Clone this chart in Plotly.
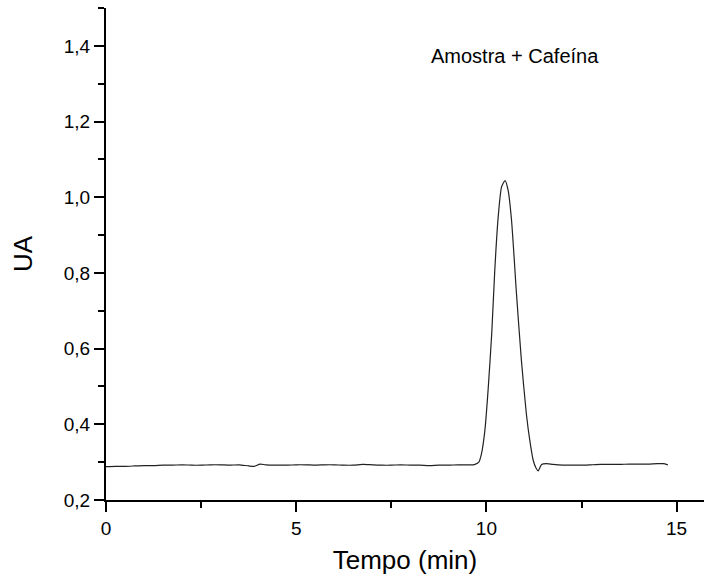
import plotly.graph_objects as go

# Time (min) and absorbance (UA)
tempo = [0.0, 0.25, 0.5, 0.75, 1.0, 1.25, 1.5, 1.75, 2.0, 2.25, 2.5, 2.75, 3.0, 3.25, 3.5,
         3.75, 3.9, 4.05, 4.2, 4.5, 4.75, 5.0, 5.25, 5.5, 5.75, 6.0, 6.25, 6.5, 6.75, 7.0,
         7.25, 7.5, 7.75, 8.0, 8.25, 8.5, 8.75, 9.0, 9.25, 9.5, 9.65, 9.70, 9.80, 9.87, 9.96,
         10.05, 10.14, 10.22, 10.31, 10.40, 10.49, 10.57, 10.66, 10.79, 10.92, 11.05, 11.14,
         11.23, 11.30, 11.36, 11.45, 11.58, 11.75, 12.0, 12.25, 12.5, 12.75, 13.0, 13.25,
         13.5, 13.75, 14.0, 14.25, 14.5, 14.65, 14.77]
ua = [0.288, 0.289, 0.289, 0.290, 0.291, 0.291, 0.292, 0.292, 0.293, 0.292, 0.292, 0.293, 0.293,
      0.292, 0.293, 0.290, 0.289, 0.295, 0.293, 0.292, 0.292, 0.293, 0.293, 0.292, 0.293, 0.293,
      0.292, 0.292, 0.294, 0.293, 0.292, 0.292, 0.293, 0.292, 0.292, 0.291, 0.292, 0.292, 0.293,
      0.293, 0.293, 0.294, 0.300, 0.322, 0.384, 0.499, 0.640, 0.807, 0.948, 1.028, 1.044, 1.019,
      0.940, 0.746, 0.569, 0.428, 0.358, 0.305, 0.285, 0.277, 0.294, 0.296, 0.294, 0.292, 0.292,
      0.292, 0.293, 0.294, 0.294, 0.294, 0.295, 0.295, 0.295, 0.296, 0.296, 0.293]

x_title = "Tempo (min)"
y_title = "UA"
annotation_text = "Amostra + Cafeína"

font_family = "Liberation Sans, Arial, sans-serif"

fig = go.Figure()
fig.add_trace(go.Scatter(x=tempo, y=ua, mode="lines",
                         line=dict(color="#222222", width=1.2, shape="spline", smoothing=0.6),
                         showlegend=False, hoverinfo="skip"))

fig.add_annotation(x=10.75, y=1.374, text=annotation_text, showarrow=False,
                   font=dict(family=font_family, size=20, color="black"))

axis_common = dict(
    showgrid=False, zeroline=False, showline=True, linecolor="black", linewidth=2,
    ticks="outside", tickcolor="black", tickwidth=2, ticklen=10,
    tickfont=dict(family=font_family, size=19, color="black"),
)

fig.update_layout(
    width=704, height=576,
    margin=dict(l=106, r=0, t=8, b=76),
    paper_bgcolor="white", plot_bgcolor="white",
    separators=",.",
    font=dict(family=font_family, color="black"),
    xaxis=dict(**axis_common, range=[0, 15.72], tick0=0, dtick=5,
               title=dict(text=x_title, font=dict(family=font_family, size=26), standoff=13),
               minor=dict(ticks="outside", ticklen=6, tickwidth=2, tickcolor="black", dtick=2.5)),
    yaxis=dict(**axis_common, range=[0.2, 1.5], tick0=0.2, dtick=0.2, tickformat=".1f",
               title=dict(text=y_title, font=dict(family=font_family, size=26), standoff=24),
               minor=dict(ticks="outside", ticklen=6, tickwidth=2, tickcolor="black", dtick=0.1)),
)

fig.write_html("out.html")
